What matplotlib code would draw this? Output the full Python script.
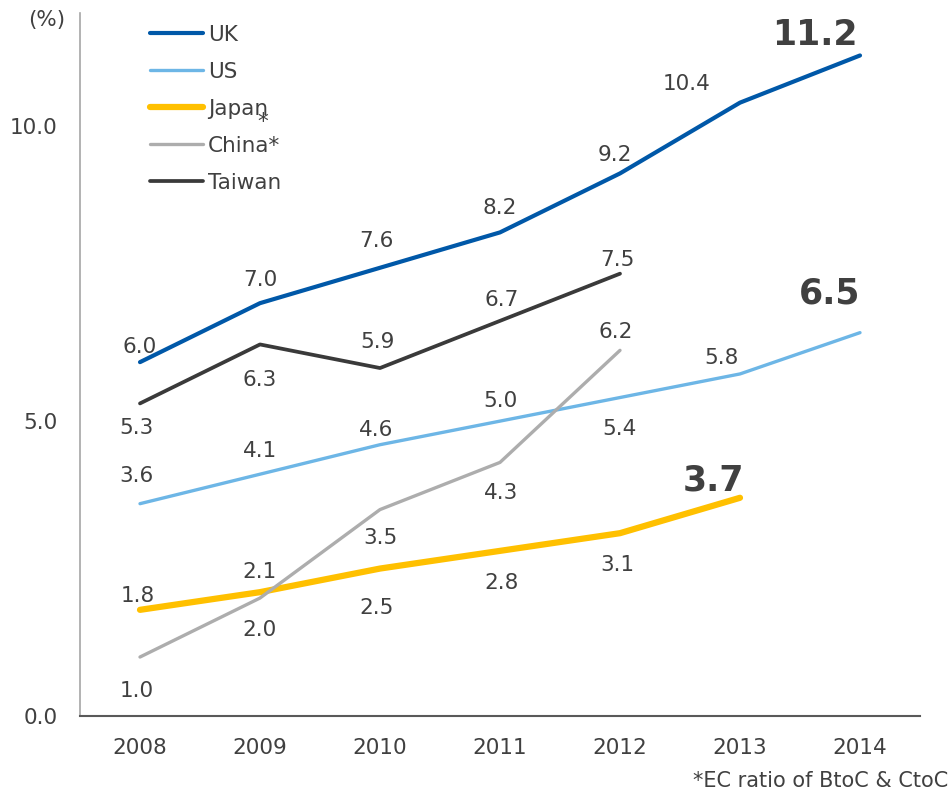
import matplotlib.pyplot as plt

years = [2008, 2009, 2010, 2011, 2012, 2013, 2014]
uk = [6.0, 7.0, 7.6, 8.2, 9.2, 10.4, 11.2]
us = [3.6, 4.1, 4.6, 5.0, 5.4, 5.8, 6.5]
japan = [1.8, 2.1, 2.5, 2.8, 3.1, 3.7]
china = [1.0, 2.0, 3.5, 4.3, 6.2]
taiwan = [5.3, 6.3, 5.9, 6.7, 7.5]

ytick_vals = [0, 5, 10]
ytick_labels = ["0.0", "5.0", "10.0"]

TXT = "#404040"
FS = 15.5

# label offsets in pixels (dx, dy) relative to each point
series = [
    ("UK", uk, "#0058A8", 3.0,
     [(0, 15), (0, 23), (-4, 27), (0, 24), (-5, 18), (-53, 19), (-45, 20)]),
    ("US", us, "#6DB6E6", 2.4,
     [(-4, 28), (0, 23), (-4, 15), (0, 20), (0, -31), (-18, 16), (-30, 39)]),
    ("Japan", japan, "#FFC000", 4.5,
     [(-2, 14), (0, 20), (-3, -39), (2, -32), (-3, -32), (-27, 17)]),
    ("China*", china, "#ADADAD", 2.4,
     [(-3, -34), (-1, -32), (0, -28), (1, -31), (-4, 18)]),
    ("Taiwan", taiwan, "#3A3A3A", 2.7,
     [(-4, -25), (0, -36), (-3, 26), (2, 21), (-3, 14)]),
]
bold_last = {"UK", "US", "Japan"}

fig = plt.figure(figsize=(9.51, 7.95), dpi=100)
ax = fig.add_axes([80 / 951, 79 / 795, 840 / 951, 703 / 795])

for name, vals, color, lw, offs in series:
    xs = years[:len(vals)]
    ax.plot(xs, vals, color=color, lw=lw, solid_capstyle="round", label=name)
    for i, (x, v) in enumerate(zip(xs, vals)):
        dx, dy = offs[i]
        big = name in bold_last and i == len(vals) - 1
        ax.annotate(f"{v:.1f}", (x, v), xytext=(dx * 0.72, dy * 0.72),
                    textcoords="offset points", ha="center", va="center",
                    color=TXT, fontsize=25 if big else FS,
                    fontweight="bold" if big else "normal")

ax.set_xlim(2007.5, 2014.5)
ax.set_ylim(0, 11.92)
ax.set_xticks(years)
ax.set_xticklabels([str(y) for y in years], fontsize=FS, color=TXT)
ax.set_yticks(ytick_vals)
ax.set_yticklabels(ytick_labels, fontsize=FS, color=TXT)
ax.tick_params(length=0)
ax.tick_params(axis="x", pad=16)
ax.tick_params(axis="y", pad=16)

for s in ["top", "right"]:
    ax.spines[s].set_visible(False)
ax.spines["left"].set_color("#A6A6A6")
ax.spines["left"].set_linewidth(1.2)
ax.spines["bottom"].set_color("#595959")
ax.spines["bottom"].set_linewidth(1.5)

leg = ax.legend(loc="upper left", bbox_to_anchor=(150 / 951, 1 - 25 / 795),
                bbox_transform=fig.transFigure, frameon=False, fontsize=FS,
                handlelength=2.46, handletextpad=0.23, labelspacing=0.79,
                borderaxespad=0, borderpad=0)
for t in leg.get_texts():
    t.set_color(TXT)

fig.text(263 / 951, 1 - 122 / 795, "*", fontsize=FS, color=TXT,
         ha="center", va="center")
fig.text(47 / 951, 1 - 20 / 795, "(%)", fontsize=FS, color=TXT,
         ha="center", va="center")
fig.text(948 / 951, 1 - 781 / 795, "*EC ratio of BtoC & CtoC", fontsize=15,
         color=TXT, ha="right", va="center")

fig.savefig("out.png", dpi=100)
